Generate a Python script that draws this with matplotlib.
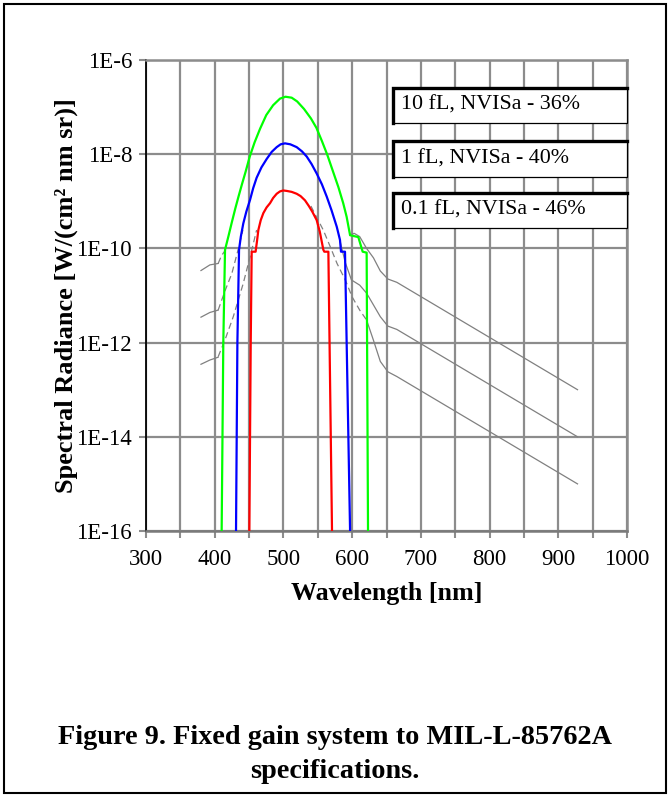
import matplotlib
matplotlib.use("Agg")
import matplotlib.pyplot as plt
import numpy as np
from matplotlib.patches import Rectangle
from matplotlib.lines import Line2D

plt.rcParams['font.family'] = ['Liberation Serif', 'DejaVu Serif']

# ---------------- data (log10 of spectral radiance, W/(cm2 nm sr)) ----------------
green_nm = [410.1, 412.5, 415.0, 420, 425, 430, 435, 440, 445, 451, 458, 466, 475, 485, 495, 503, 512, 520,
            530, 540, 548, 556, 564, 572, 580, 587, 592, 597, 609, 615.3, 621.1, 623.1]
green_log = [-16.0, -12.0, -10.03, -9.74, -9.44, -9.15, -8.88, -8.62, -8.37, -8.05, -7.75, -7.46, -7.17, -6.96,
             -6.82, -6.78, -6.80, -6.88, -7.04, -7.24, -7.44, -7.72, -8.02, -8.36, -8.70, -9.04, -9.33, -9.72,
             -9.76, -10.07, -10.09, -16.0]

blue_nm = [431, 433, 435.4, 438, 441.6, 446, 451.4, 456, 461, 468, 475.7, 483, 490.2, 496, 502.3, 510, 519.3,
           527, 533.9, 541, 548.4, 556, 563, 570, 577.6, 582.3, 583.8, 589.6, 597]
blue_log = [-16.0, -12.0, -10.03, -9.75, -9.47, -9.22, -8.97, -8.72, -8.50, -8.28, -8.10, -7.95, -7.85, -7.79,
            -7.77, -7.79, -7.85, -7.94, -8.05, -8.21, -8.41, -8.64, -8.90, -9.19, -9.54, -9.82, -10.07, -10.07,
            -16.0]

red_nm = [450.4, 452.4, 453.8, 459.5, 461.5, 463.5, 467, 470.8, 475.5, 480.5, 485, 490.2, 495, 499.8, 505, 512,
          519.3, 525, 531.4, 537, 542, 548.4, 553, 558.1, 559.5, 565.4, 570.7]
red_log = [-16.0, -12.0, -10.07, -10.07, -9.85, -9.61, -9.40, -9.25, -9.13, -9.04, -8.93, -8.84, -8.79, -8.77,
           -8.78, -8.80, -8.84, -8.89, -8.98, -9.10, -9.22, -9.40, -9.65, -10.03, -10.07, -10.07, -16.0]

# gray specification curves: solid left segment, dashed rise, right tail
g10_left_nm = [380, 393, 405]
g10_left_log = [-10.47, -10.35, -10.32]
g10_dash_nm = [405, 410, 416]
g10_dash_log = [-10.32, -10.15, -10.03]
g10_right_nm = [597, 603, 611, 621, 631, 641, 652, 665, 928]
g10_right_log = [-9.72, -9.68, -9.75, -10.0, -10.2, -10.48, -10.65, -10.72, -13.0]

g1_left_nm = [380, 393, 405]
g1_left_log = [-11.46, -11.36, -11.31]
g1_dash_nm = [405, 415, 425, 434, 441]
g1_dash_log = [-11.31, -10.9, -10.53, -10.03, -9.61]
g1_right_nm = [582, 590, 599, 611, 621, 631, 641, 652, 665, 928]
g1_right_log = [-9.82, -10.3, -10.67, -10.78, -10.95, -11.2, -11.45, -11.65, -11.72, -14.0]

g01_left_nm = [380, 393, 405]
g01_left_log = [-12.46, -12.37, -12.31]
g01_dash_nm = [405, 415, 427, 441.6, 451.4, 461]
g01_dash_log = [-12.3, -11.94, -11.45, -10.74, -10.18, -9.61]
g01_rdash_nm = [540, 548, 558, 568, 578, 590, 600, 611, 621]
g01_rdash_log = [-9.1, -9.33, -9.61, -9.96, -10.32, -10.67, -11.03, -11.31, -11.52]
g01_right_nm = [621, 631, 641, 652, 665, 928]
g01_right_log = [-11.52, -11.95, -12.4, -12.62, -12.72, -15.0]

legend_labels = ["10 fL, NVISa - 36%", "1 fL, NVISa - 40%", "0.1 fL, NVISa - 46%"]

x_ticks = list(range(300, 1001, 50))
x_labels = [str(v) if v % 100 == 0 else "" for v in x_ticks]
y_exps = [-6, -8, -10, -12, -14, -16]
y_labels = ["1E-6", "1E-8", "1E-10", "1E-12", "1E-14", "1E-16"]

# ---------------- figure ----------------
W, H = 670, 798
fig = plt.figure(figsize=(W / 100, H / 100), dpi=100)
L, R, T, B = 146, 627, 60, 531
ax = fig.add_axes([L / W, 1 - B / H, (R - L) / W, (B - T) / H])
ax.set_yscale('log')
ax.set_xlim(300, 1000)
ax.set_ylim(1e-16, 1e-6)

gridc = '#8c8c8c'
ax.set_xticks(x_ticks)
ax.set_xticklabels(x_labels, fontsize=16.5)
ax.set_yticks([10.0 ** e for e in y_exps])
ax.set_yticklabels(y_labels, fontsize=16.5)
ax.yaxis.set_minor_locator(matplotlib.ticker.NullLocator())
ax.xaxis.set_minor_locator(matplotlib.ticker.NullLocator())
ax.grid(True, color=gridc, lw=1.6)
ax.tick_params(axis='both', direction='out', length=5, width=1.5, color=gridc)
ax.tick_params(axis='y', pad=5)
ax.tick_params(axis='x', pad=8)
for s in ['top', 'right']:
    ax.spines[s].set_color(gridc)
    ax.spines[s].set_linewidth(1.8)
ax.spines['bottom'].set_color('#7a7a7a')
ax.spines['bottom'].set_linewidth(1.8)
ax.spines['left'].set_color('black')
ax.spines['left'].set_linewidth(1.3)


def P(v):
    return 10.0 ** np.asarray(v)


gc = '#808080'
for (ln, ll, dn, dl) in [(g10_left_nm, g10_left_log, g10_dash_nm, g10_dash_log),
                         (g1_left_nm, g1_left_log, g1_dash_nm, g1_dash_log),
                         (g01_left_nm, g01_left_log, g01_dash_nm, g01_dash_log)]:
    ax.plot(ln, P(ll), color=gc, lw=0.9, zorder=3)
    ax.plot(dn, P(dl), color=gc, lw=0.9, ls=(0, (5, 3)), zorder=3)
ax.plot(g10_right_nm, P(g10_right_log), color=gc, lw=0.9, zorder=3)
ax.plot(g1_right_nm, P(g1_right_log), color=gc, lw=0.9, zorder=3)
ax.plot(g01_rdash_nm, P(g01_rdash_log), color=gc, lw=0.9, ls=(0, (5, 3)), zorder=3)
ax.plot(g01_right_nm, P(g01_right_log), color=gc, lw=0.9, zorder=3)

ax.plot(green_nm, P(green_log), color='#00ff00', lw=1.6, zorder=4)
ax.plot(blue_nm, P(blue_log), color='#0000ff', lw=1.6, zorder=4)
ax.plot(red_nm, P(red_log), color='#ff0000', lw=1.6, zorder=4)

ax.set_xlabel("Wavelength [nm]", fontsize=18.7, fontweight='bold', labelpad=8.5)
ax.set_ylabel("Spectral Radiance [W/(cm² nm sr)]", fontsize=19, fontweight='bold', labelpad=-1.5)

# legend boxes
boxes = [(88, 123), (141, 177), (193, 228)]
bx0, bx1 = 393, 627
for (yt, yb), lab in zip(boxes, legend_labels):
    x0 = (bx0 - L) / (R - L)
    x1 = (bx1 - L) / (R - L)
    y0 = (B - yb) / (B - T)
    y1 = (B - yt) / (B - T)
    ax.add_patch(Rectangle((x0, y0), x1 - x0, y1 - y0, transform=ax.transAxes,
                           facecolor='white', edgecolor='black', lw=0.9, zorder=6, clip_on=False))
    ax.add_line(Line2D([x0, x0, x1], [y0, y1, y1], transform=ax.transAxes,
                       color='black', lw=2.4, zorder=7, clip_on=False, solid_joinstyle='miter'))
    ax.text((401 - L) / (R - L), (y0 + y1) / 2, lab, transform=ax.transAxes,
            fontsize=15.8, va='center', ha='left', zorder=8)

fig.text(0.5, 1 - 737 / H, "Figure 9. Fixed gain system to MIL-L-85762A", ha='center', va='center',
         fontsize=20.3, fontweight='bold')
fig.text(0.5, 1 - 772 / H, "specifications.", ha='center', va='center',
         fontsize=20.3, fontweight='bold')

fig.patches.append(Rectangle((4 / W, 1 - 793 / H), 662 / W, 789 / H, transform=fig.transFigure,
                             fill=False, edgecolor='black', lw=1.5))

fig.savefig("out.png", dpi=100)
